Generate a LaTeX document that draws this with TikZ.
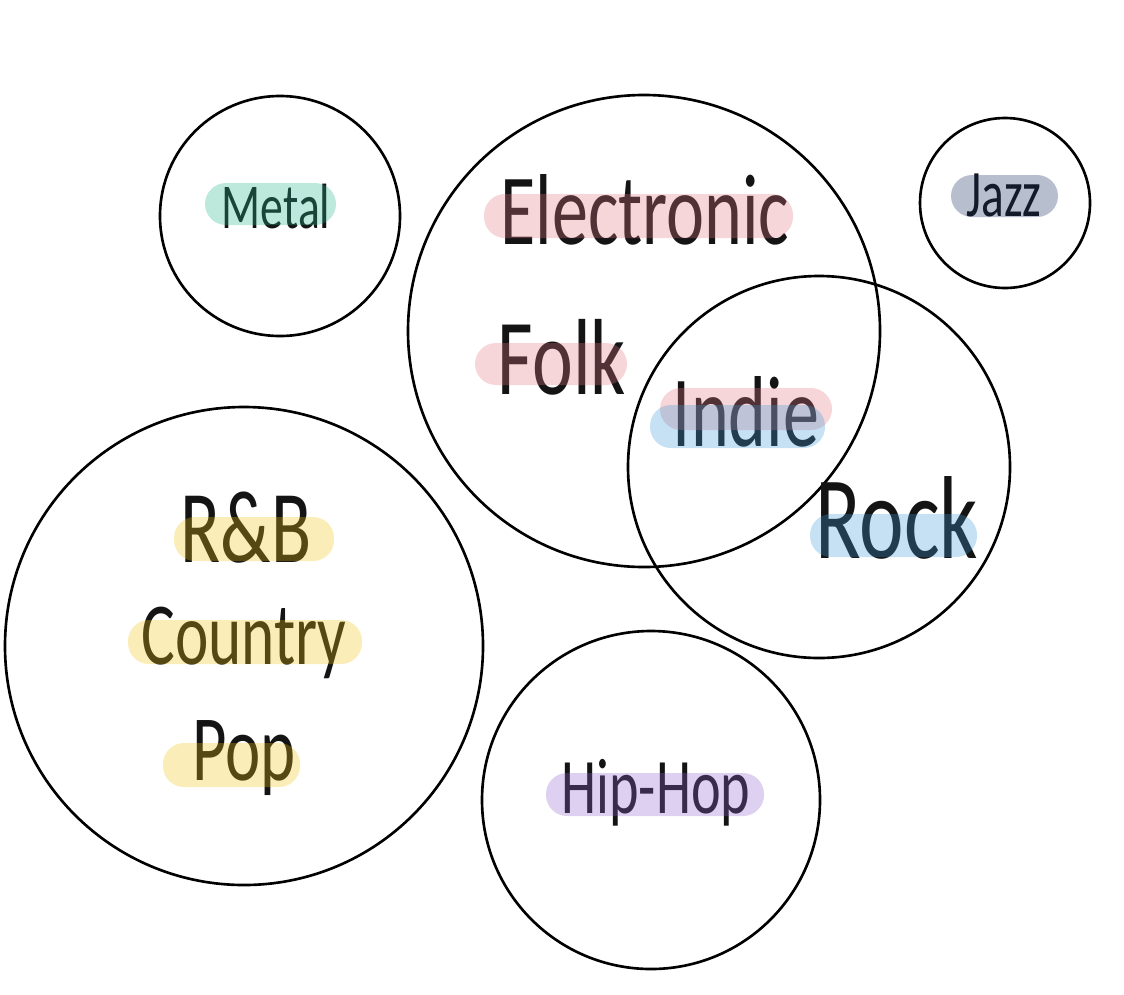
\documentclass[tikz,border=0pt]{standalone}
\usepackage{fontspec}
\setmainfont{Carlito}
\definecolor{HlPink}{RGB}{225,118,130}
\definecolor{HlBlue}{RGB}{62,155,215}
\definecolor{HlYellow}{RGB}{238,195,18}
\definecolor{HlTeal}{RGB}{38,182,142}
\definecolor{HlSlate}{RGB}{18,42,95}
\definecolor{HlPurple}{RGB}{142,98,205}
\definecolor{InkDark}{RGB}{20,20,20}

\begin{document}
\begin{tikzpicture}[x=0.02cm, y=-0.02cm,
  ring/.style={line width=1.5pt},
  hl/.style={opacity=0.3, rounded corners=0.42cm},
  genre/.style={anchor=base, inner sep=0pt, text=InkDark, yscale=1.4}]
  \useasboundingbox (0,0) rectangle (1124,994);
  % Circles
  \draw[ring] (280,216) circle[radius=120];
  \draw[ring] (644,331) circle[radius=236];
  \draw[ring] (1005,203) circle[radius=85];
  \draw[ring] (819,467) circle[radius=191];
  \draw[ring] (244,646) circle[radius=239];
  \draw[ring] (651,800) circle[radius=169];
  % Labels
  \node[genre, font=\fontsize{26}{27}\selectfont] (metal) at (276,228) {Metal};
  \node[genre, font=\fontsize{41}{42}\selectfont] (electronic) at (645,244) {Electronic};
  \node[genre, font=\fontsize{44}{45}\selectfont] (folk) at (562,394) {Folk};
  \node[genre, font=\fontsize{41}{42}\selectfont] (indie) at (746,446) {Indie};
  \node[genre, font=\fontsize{48}{49}\selectfont] (rock) at (897,558) {Rock};
  \node[genre, font=\fontsize{42}{43}\selectfont] (rnb) at (246,562) {R\&B};
  \node[genre, font=\fontsize{36}{37}\selectfont] (country) at (244,664) {Country};
  \node[genre, font=\fontsize{38}{39}\selectfont] (pop) at (244,780) {Pop};
  \node[genre, font=\fontsize{27}{28}\selectfont] (jazz) at (1004,216) {Jazz};
  \node[genre, font=\fontsize{32}{33}\selectfont] (hiphop) at (656,813) {Hip-Hop};
  % Highlights
  \fill[hl, HlTeal] (205,183) rectangle (336,225);
  \fill[hl, HlPink] (484,194) rectangle (793,238);
  \fill[hl, HlPink] (475,343) rectangle (627,385);
  \fill[hl, HlPink] (660,388) rectangle (832,430);
  \fill[hl, HlBlue] (650,405) rectangle (825,448);
  \fill[hl, HlBlue] (810,514) rectangle (977,557);
  \fill[hl, HlYellow] (174,517) rectangle (334,561);
  \fill[hl, HlYellow] (128,620) rectangle (362,664);
  \fill[hl, HlYellow] (163,743) rectangle (300,787);
  \fill[hl, HlSlate] (951,175) rectangle (1058,217);
  \fill[hl, HlPurple] (546,773) rectangle (764,816);
\end{tikzpicture}
\end{document}
